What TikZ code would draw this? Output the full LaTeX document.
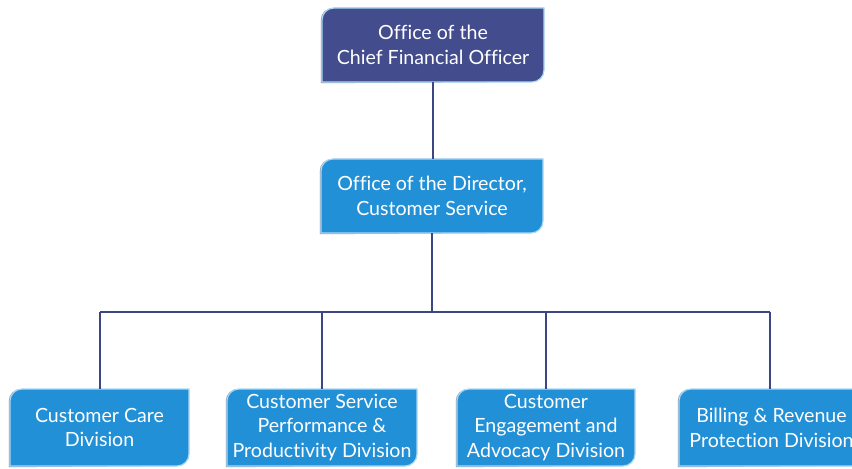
\documentclass[tikz,border=0pt]{standalone}
\usepackage{fontspec}
\setmainfont{Lato}[Ligatures=NoCommon]
\definecolor{topfill}{HTML}{434C8D}
\definecolor{bluefill}{HTML}{2290D6}
\definecolor{edgecol}{HTML}{A8D8F6}
\definecolor{shadowcol}{HTML}{8A8FA8}
\definecolor{linecol}{HTML}{3C4685}
\tikzset{
  boxtext/.style={text=white, align=center, inner sep=0pt, font=\fontsize{14.7}{18.6}\selectfont},
  conn/.style={draw=linecol, line width=1.15pt},
}
% name, left, top(px), right, bottom(px), fill, text
\newcommand\orgbox[7]{%
  \fill[shadowcol] (#2-1.2,468-#5-1.2) -- (#2-1.2,468-#3-12) arc[start angle=180,end angle=90,radius=9pt] -- (#4-1.2,468-#3) -- (#4-1.2,468-#5+12) arc[start angle=0,end angle=-90,radius=9pt] -- cycle;
  \path[fill=#6, draw=edgecol, line width=0.9pt] (#2,468-#5) -- (#2,468-#3-12) arc[start angle=180,end angle=90,radius=9pt] -- (#4,468-#3) -- (#4,468-#5+12) arc[start angle=0,end angle=-90,radius=9pt] -- cycle;
  \node[boxtext, minimum width={(#4-#2)*0.75pt}, minimum height={(#5-#3)*0.75pt}] (#1) at ({(#2+#4)/2},{468-(#3+#5)/2}) {#7};
}
\begin{document}
\begin{tikzpicture}[x=0.75pt,y=0.75pt]
\useasboundingbox (0,0) rectangle (852,468);
\clip (0,0) rectangle (852,468);
\fill[white] (0,0) rectangle (852,468);
\orgbox{cfo}{322}{8}{544}{82}{topfill}{Office of the\\Chief Financial Officer}
\orgbox{dir}{321}{159}{543}{233}{bluefill}{Office of the Director,\\Customer Service}
\orgbox{care}{10}{389}{189}{466}{bluefill}{Customer Care\\Division}
\orgbox{perf}{227}{389}{417}{466}{bluefill}{Customer Service\\Performance \&\\Productivity Division}
\orgbox{eng}{457}{389}{635}{466}{bluefill}{Customer\\Engagement and\\Advocacy Division}
\orgbox{bill}{679}{389}{864}{466}{bluefill}{Billing \& Revenue\\Protection Division}
\coordinate (bus) at (dir.south |- 0,468-312);
\coordinate (busL) at (100,468-312);
\coordinate (busR) at (770,468-312);
\draw[conn] (cfo.south) -- (cfo.south |- dir.north);
\draw[conn] (dir.south) -- (bus);
\draw[conn] (busL) -- (busR);
\draw[conn] (busL) -- (busL |- care.north);
\draw[conn] (322,468-312) -- (322,468-389);
\draw[conn] (546,468-312) -- (546,468-389);
\draw[conn] (busR) -- (busR |- bill.north);
\end{tikzpicture}
\end{document}
